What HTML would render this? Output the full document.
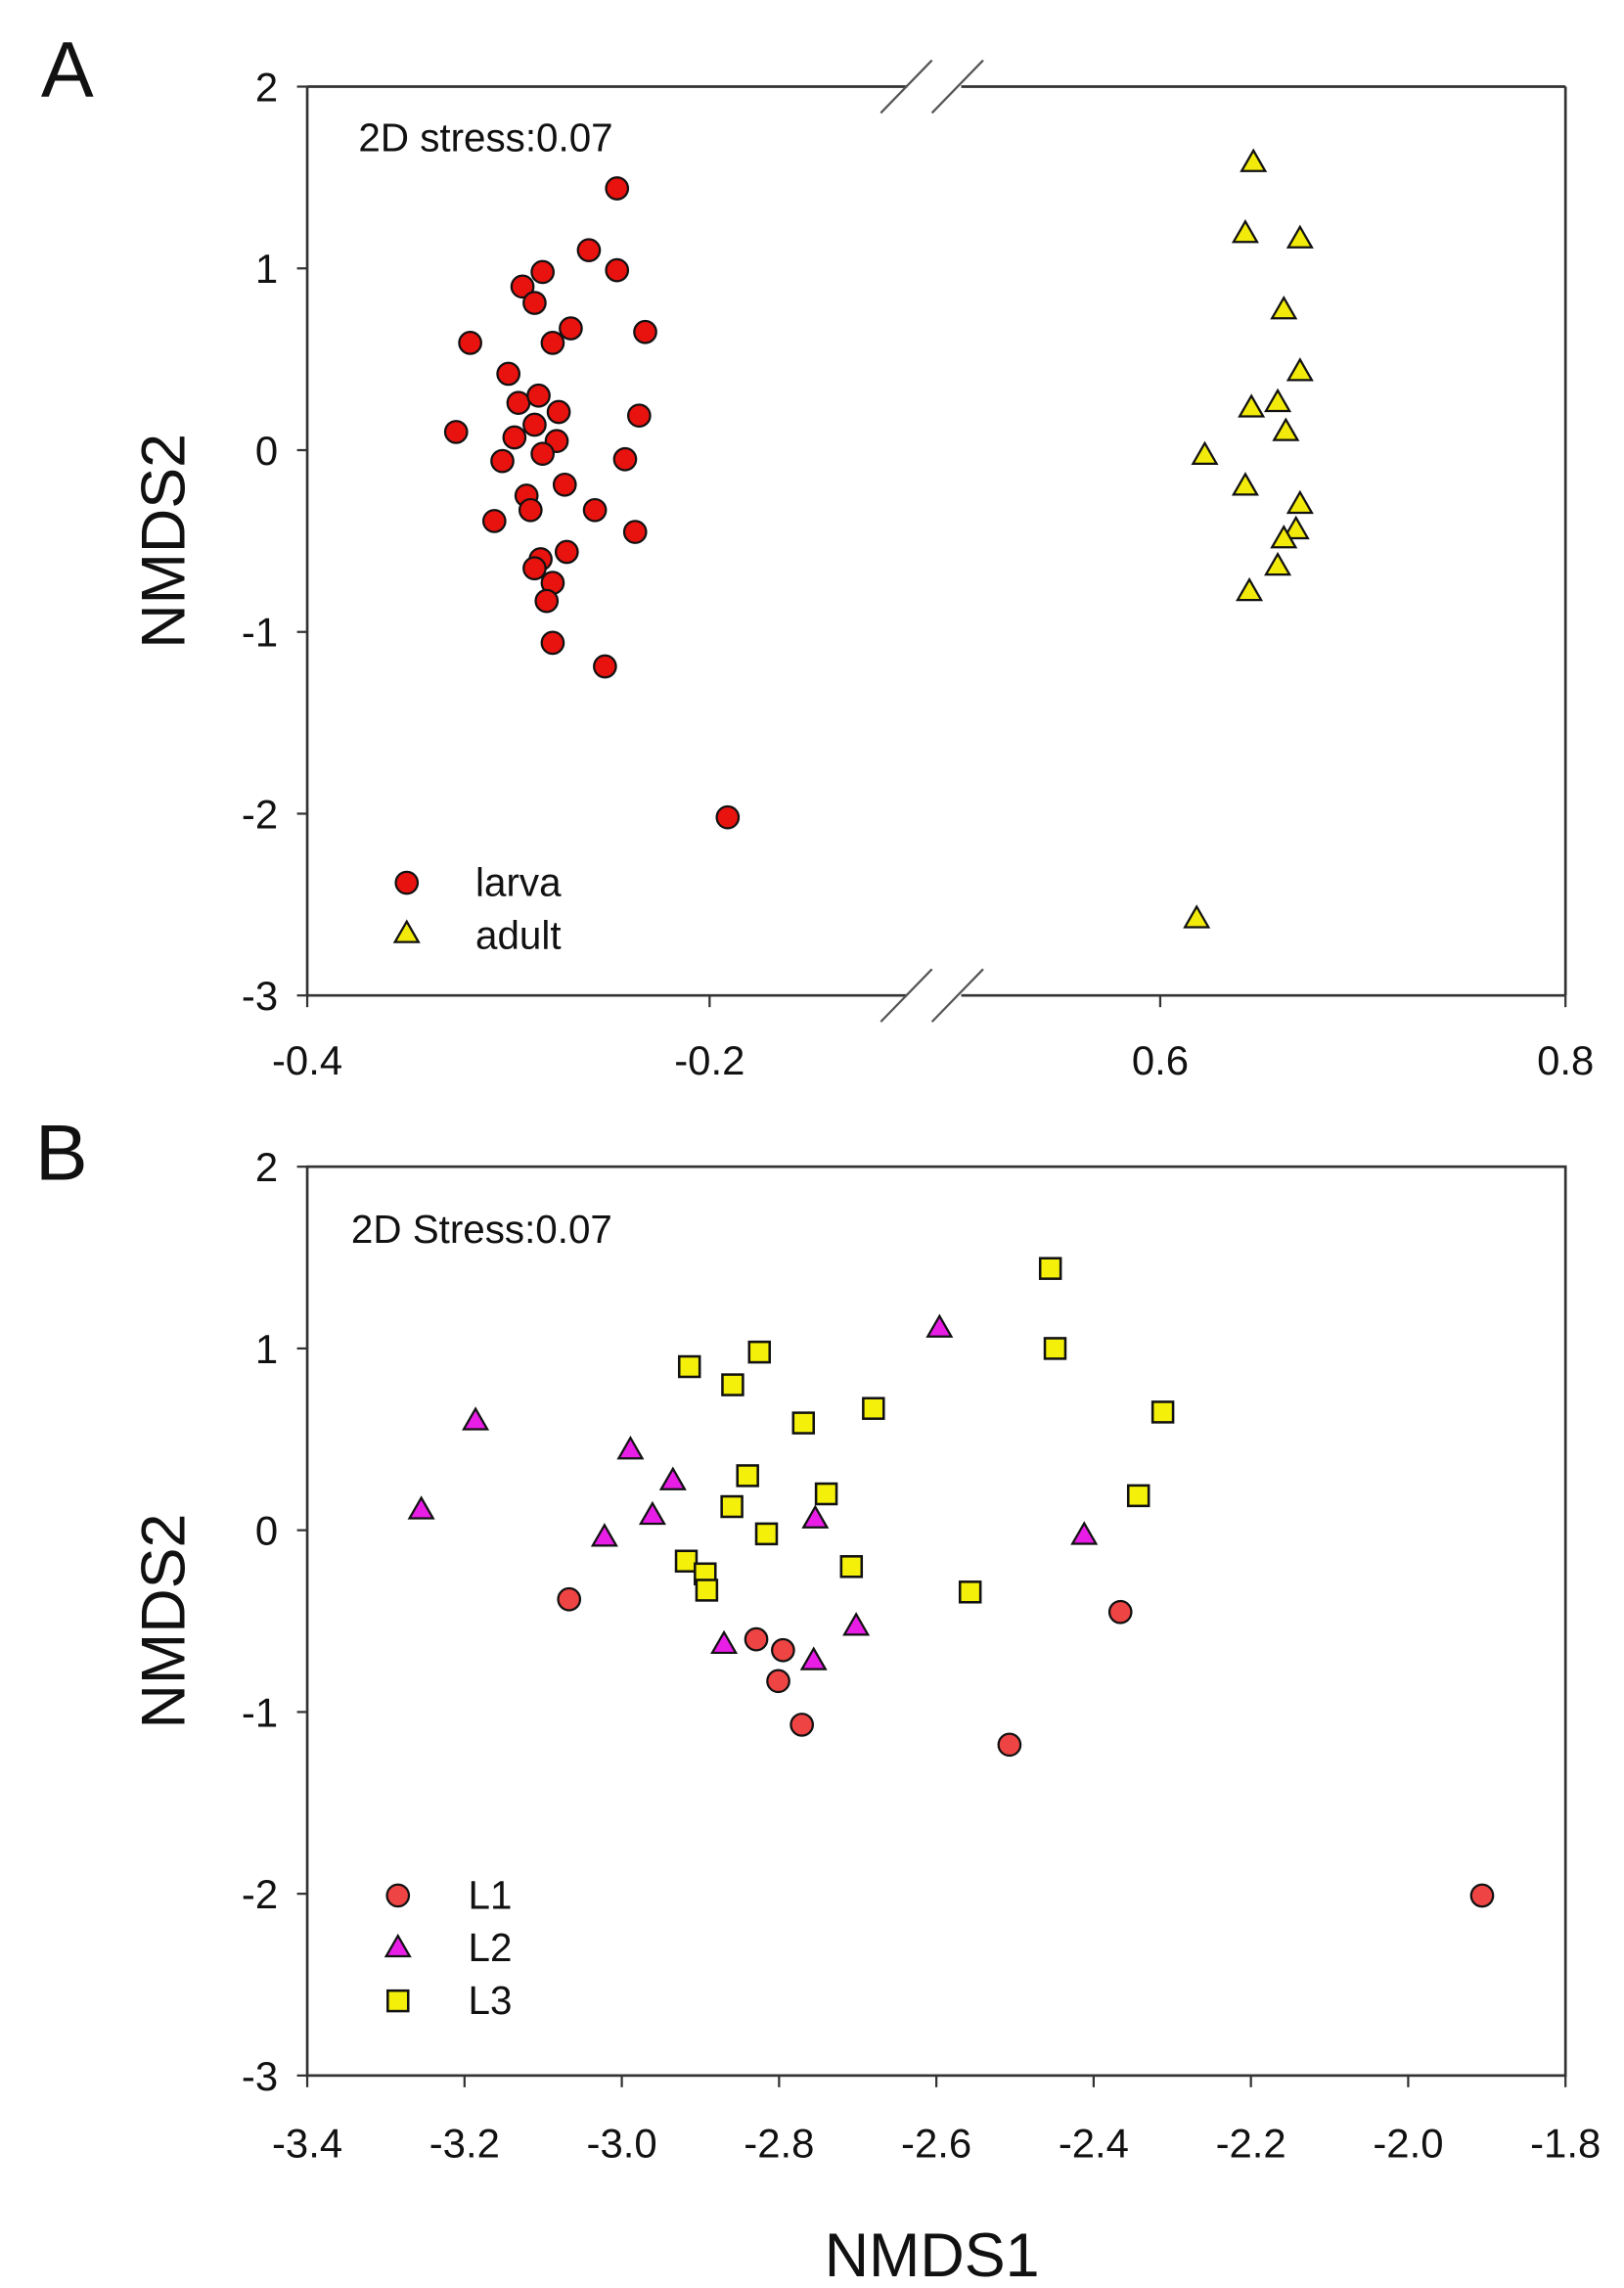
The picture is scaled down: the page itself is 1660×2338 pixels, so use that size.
<!DOCTYPE html>
<html><head><meta charset="utf-8"><style>
html,body{margin:0;padding:0;background:#fff}
svg{display:block}
text{font-family:"Liberation Sans",Arial,sans-serif;fill:#111}
</style></head><body>
<svg id="fig" width="1660" height="2338" viewBox="0 0 1110 1563" xmlns="http://www.w3.org/2000/svg">
<g id="pa"></g>
<g id="pb"></g>
</svg>
<script>
// Panel A data
const larvaX = [-0.246,-0.260,-0.246,-0.283,-0.293,-0.287,-0.269,-0.232,-0.319,-0.278,-0.300,-0.295,-0.285,-0.275,-0.235,-0.326,-0.287,-0.297,-0.276,-0.283,-0.242,-0.303,-0.272,-0.291,-0.289,-0.307,-0.257,-0.237,-0.271,-0.284,-0.287,-0.278,-0.281,-0.278,-0.252,-0.191];
const larvaY = [1.44,1.10,0.99,0.98,0.90,0.81,0.67,0.65,0.59,0.59,0.42,0.26,0.30,0.21,0.19,0.10,0.14,0.07,0.05,-0.02,-0.05,-0.06,-0.19,-0.25,-0.33,-0.39,-0.33,-0.45,-0.56,-0.60,-0.65,-0.73,-0.83,-1.06,-1.19,-2.02];
const adultX = [0.646,0.642,0.669,0.661,0.669,0.645,0.658,0.662,0.622,0.642,0.669,0.667,0.661,0.658,0.644,0.618];
const adultY = [1.58,1.19,1.16,0.77,0.43,0.23,0.26,0.10,-0.03,-0.20,-0.30,-0.44,-0.49,-0.64,-0.78,-2.58];
const aXTicks = [-0.4,-0.2,0.6,0.8];
const aXTickLabels = ["-0.4","-0.2","0.6","0.8"];
const yTicks = [2,1,0,-1,-2,-3];
const yTickLabels = ["2","1","0","-1","-2","-3"];
// Panel B data
const l1X = [-3.067,-2.829,-2.795,-2.801,-2.771,-2.507,-2.366,-1.906];
const l1Y = [-0.38,-0.60,-0.66,-0.83,-1.07,-1.18,-0.45,-2.01];
const l2X = [-3.255,-3.186,-3.022,-2.989,-2.961,-2.935,-2.754,-2.596,-2.412,-2.702,-2.870,-2.756];
const l2Y = [0.11,0.60,-0.04,0.44,0.08,0.27,0.06,1.11,-0.03,-0.53,-0.63,-0.72];
const l3X = [-2.455,-2.449,-2.825,-2.914,-2.859,-2.769,-2.680,-2.312,-2.840,-2.740,-2.860,-2.816,-2.343,-2.918,-2.894,-2.892,-2.708,-2.557];
const l3Y = [1.44,1.00,0.98,0.90,0.80,0.59,0.67,0.65,0.30,0.20,0.13,-0.02,0.19,-0.17,-0.24,-0.33,-0.20,-0.34];
const bXTicks = [-3.4,-3.2,-3.0,-2.8,-2.6,-2.4,-2.2,-2.0,-1.8];
const bXTickLabels = ["-3.4","-3.2","-3.0","-2.8","-2.6","-2.4","-2.2","-2.0","-1.8"];

const NS="http://www.w3.org/2000/svg";
function mk(parent,tag,attrs,txt){const e=document.createElementNS(NS,tag);for(const k in attrs)e.setAttribute(k,attrs[k]);if(txt!==undefined)e.textContent=txt;parent.appendChild(e);return e;}

const L=210,R=1070;
function xA(v){return v<0.2? 210+(v+0.4)/0.2*275 : 793+(v-0.6)/0.2*277;}
function xB(v){return 210+(v+3.4)/1.6*860;}
function yFn(top){return v=>top+(2-v)/5*621;}

function circle(g,x,y,fill,name){const c=mk(g,'circle',{cx:x,cy:y,r:7.5,fill:fill,stroke:'#111','stroke-width':1.5});

}
function tri(g,x,y,fill,name){const s=8.5;const p=mk(g,'polygon',{points:`${x},${y-s} ${x-s*0.95},${y+s*0.65} ${x+s*0.95},${y+s*0.65}`,fill:fill,stroke:'#111','stroke-width':1.5});

}
function sq(g,x,y,fill,name){const s=7;const p=mk(g,'rect',{x:x-s,y:y-s,width:2*s,height:2*s,fill:fill,stroke:'#111','stroke-width':1.7});

}

function axesY(g,top,y){
  const bot=top+621;
  yTicks.forEach((t,i)=>{const yy=y(t);
    const tk=mk(g,'line',{x1:L-7,x2:L,y1:yy,y2:yy,stroke:'#333','stroke-width':1.5});
    
    
    const lb=mk(g,'text',{x:L-20,y:yy+10,'font-size':28,'text-anchor':'end'},yTickLabels[i]);
    
    });
  const yt=mk(g,'text',{x:0,y:0,'font-size':42,'text-anchor':'middle',transform:`translate(126,${(top+bot)/2}) rotate(-90)`},'NMDS2');
  
  
}

// Panel A
(function(){
  const g=document.getElementById('pa');const top=59,bot=680;const y=yFn(top);
  mk(g,'line',{x1:L,x2:L,y1:top,y2:bot,stroke:'#333','stroke-width':1.8});
  mk(g,'line',{x1:R,x2:R,y1:top,y2:bot,stroke:'#333','stroke-width':1.8});
  [top,bot].forEach(yy=>{
    mk(g,'line',{x1:L,x2:620,y1:yy,y2:yy,stroke:'#333','stroke-width':1.8});
    mk(g,'line',{x1:657,x2:R,y1:yy,y2:yy,stroke:'#333','stroke-width':1.8});
    mk(g,'line',{x1:602,x2:637,y1:yy+18,y2:yy-18,stroke:'#555','stroke-width':1.5});
    mk(g,'line',{x1:637,x2:672,y1:yy+18,y2:yy-18,stroke:'#555','stroke-width':1.5});
  });
  axesY(g,top,y);
  aXTicks.forEach((t,i)=>{const xx=xA(t);
    const tk=mk(g,'line',{x1:xx,x2:xx,y1:bot,y2:bot+8,stroke:'#333','stroke-width':1.5});
    
    
    const lb=mk(g,'text',{x:xx,y:bot+54,'font-size':28,'text-anchor':'middle'},aXTickLabels[i]);
    
    });
  const pl=mk(g,'text',{x:28,y:66,'font-size':54},'A');
  
  
  const st=mk(g,'text',{x:245,y:103,'font-size':27},'2D stress:0.07');
  
  
  larvaX.forEach((v,i)=>circle(g,xA(v),y(larvaY[i]),'#e8120f','larva-point'));
  adultX.forEach((v,i)=>tri(g,xA(v),y(adultY[i]),'#f2ea0a','adult-point'));
  circle(g,278,603,'#e8120f','legend-larva-marker');
  tri(g,278,638,'#f2ea0a','legend-adult-marker');
  const t1=mk(g,'text',{x:325,y:612,'font-size':27},'larva');
  
  
  const t2=mk(g,'text',{x:325,y:648,'font-size':27},'adult');
  
  
})();

// Panel B
(function(){
  const g=document.getElementById('pb');const top=797,bot=1418;const y=yFn(top);
  mk(g,'rect',{x:L,y:top,width:R-L,height:bot-top,fill:'none',stroke:'#333','stroke-width':1.8});
  axesY(g,top,y);
  bXTicks.forEach((t,i)=>{const xx=xB(t);
    const tk=mk(g,'line',{x1:xx,x2:xx,y1:bot,y2:bot+8,stroke:'#333','stroke-width':1.5});
    
    
    const lb=mk(g,'text',{x:xx,y:bot+56,'font-size':28,'text-anchor':'middle'},bXTickLabels[i]);
    
    });
  const xt=mk(g,'text',{x:637,y:1555,'font-size':42,'text-anchor':'middle'},'NMDS1');
  
  
  const pl=mk(g,'text',{x:24,y:806,'font-size':54},'B');
  
  
  const st=mk(g,'text',{x:240,y:849,'font-size':27},'2D Stress:0.07');
  
  
  l3X.forEach((v,i)=>sq(g,xB(v),y(l3Y[i]),'#f5f00a','l3-point'));
  l2X.forEach((v,i)=>tri(g,xB(v),y(l2Y[i]),'#e81ee6','l2-point'));
  l1X.forEach((v,i)=>circle(g,xB(v),y(l1Y[i]),'#ee4444','l1-point'));
  circle(g,272,1295,'#ee4444','legend-l1-marker');
  tri(g,272,1331,'#e81ee6','legend-l2-marker');
  sq(g,272,1367,'#f5f00a','legend-l3-marker');
  [['L1',1304],['L2',1340],['L3',1376]].forEach(a=>{
    const t=mk(g,'text',{x:320,y:a[1],'font-size':27},a[0]);
    
    
  });
})();
</script>
</body></html>
